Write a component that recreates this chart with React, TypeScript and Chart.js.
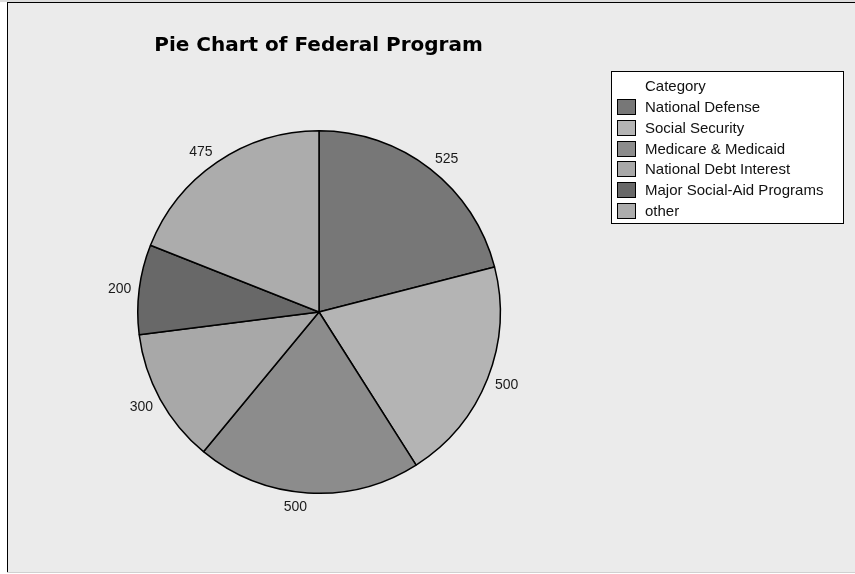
import React, { useEffect, useRef } from "react";
import { Chart, registerables } from "chart.js";

Chart.register(...registerables);

const categories = [
  "National Defense",
  "Social Security",
  "Medicare & Medicaid",
  "National Debt Interest",
  "Major Social-Aid Programs",
  "other",
];
const values = [525, 500, 500, 300, 200, 475];
const sliceColors = ["#777777", "#b4b4b4", "#8c8c8c", "#a8a8a8", "#686868", "#acacac"];
const titleText = "Pie Chart of Federal Program";
const legendTitle = "Category";

const W = 855;
const H = 574;

const framePlugin = {
  id: "frame",
  beforeDraw(chart: any) {
    const ctx = chart.ctx;
    ctx.save();
    ctx.fillStyle = "#ffffff";
    ctx.fillRect(0, 0, W, H);
    ctx.fillStyle = "#dcdcdc";
    ctx.fillRect(0, 0, W, 2);
    ctx.fillStyle = "#ebebeb";
    ctx.fillRect(7, 2, W - 7, 570);
    ctx.strokeStyle = "#000000";
    ctx.lineWidth = 1;
    ctx.beginPath();
    ctx.moveTo(7.5, 2);
    ctx.lineTo(7.5, 572);
    ctx.moveTo(7, 2.5);
    ctx.lineTo(W, 2.5);
    ctx.stroke();
    ctx.strokeStyle = "#d0d0d0";
    ctx.beginPath();
    ctx.moveTo(7, 572.5);
    ctx.lineTo(W, 572.5);
    ctx.stroke();
    ctx.restore();
  },
};

const sliceLabelPlugin = {
  id: "sliceLabels",
  afterDatasetsDraw(chart: any) {
    const ctx = chart.ctx;
    const meta = chart.getDatasetMeta(0);
    const data = chart.data.datasets[0].data;
    ctx.save();
    ctx.font = "14px 'Liberation Sans', Arial, sans-serif";
    ctx.fillStyle = "#1a1a1a";
    ctx.textBaseline = "alphabetic";
    meta.data.forEach((arc: any, i: number) => {
      const { x, y, startAngle, endAngle, outerRadius } = arc.getProps(
        ["x", "y", "startAngle", "endAngle", "outerRadius"],
        true
      );
      const a = (startAngle + endAngle) / 2;
      const r = outerRadius + 8;
      const ax = x + r * Math.cos(a);
      const ay = y + r * Math.sin(a);
      const s = Math.cos(a);
      const c = -Math.sin(a);
      ctx.textAlign = s >= 0 ? "left" : "right";
      const cy = ay - 5.5 * c;
      ctx.fillText(String(data[i]), ax, cy + 5);
    });
    ctx.restore();
  },
};

const titleLegendPlugin = {
  id: "titleLegend",
  afterDraw(chart: any) {
    const ctx = chart.ctx;
    ctx.save();
    ctx.fillStyle = "#000000";
    ctx.font = "bold 20px 'DejaVu Sans', sans-serif";
    ctx.textAlign = "center";
    ctx.textBaseline = "alphabetic";
    ctx.fillText(titleText, 318.5, 50.5);

    const bx = 611.5;
    const by = 71.5;
    const bw = 232;
    const bh = 152;
    ctx.fillStyle = "#ffffff";
    ctx.fillRect(bx, by, bw, bh);
    ctx.strokeStyle = "#000000";
    ctx.lineWidth = 1;
    ctx.strokeRect(bx, by, bw, bh);

    ctx.font = "15px 'Liberation Sans', Arial, sans-serif";
    ctx.textAlign = "left";
    ctx.fillStyle = "#111111";
    const textX = 645;
    const firstRow = 86;
    const step = 20.7;
    ctx.fillText(legendTitle, textX, firstRow + 5.4);
    const colors = chart.data.datasets[0].backgroundColor;
    chart.data.labels.forEach((lab: string, i: number) => {
      const cy = firstRow + step * (i + 1);
      const top = Math.round(cy - 7.5) + 0.5;
      ctx.fillStyle = colors[i];
      ctx.fillRect(617.5, top, 18, 15);
      ctx.strokeStyle = "#000000";
      ctx.strokeRect(617.5, top, 18, 15);
      ctx.fillStyle = "#111111";
      ctx.fillText(lab, textX, cy + 5.4);
    });
    ctx.restore();
  },
};

export default function App() {
  const canvasRef = useRef<HTMLCanvasElement | null>(null);

  useEffect(() => {
    if (!canvasRef.current) return;
    const chart = new Chart(canvasRef.current, {
      type: "pie",
      data: {
        labels: categories,
        datasets: [
          {
            data: values,
            backgroundColor: sliceColors,
            borderColor: "#000000",
            borderWidth: 1.5,
          },
        ],
      },
      options: {
        responsive: false,
        animation: false,
        devicePixelRatio: 1,
        layout: { padding: { left: 137, right: W - 501, top: 130, bottom: H - 494 } },
        plugins: {
          legend: { display: false },
          title: { display: false },
          tooltip: { enabled: false },
        },
      },
      plugins: [framePlugin, sliceLabelPlugin, titleLegendPlugin],
    });
    return () => chart.destroy();
  }, []);

  return (
    <div style={{ position: "absolute", left: 0, top: 0, width: W, height: H }}>
      <canvas ref={canvasRef} width={W} height={H} style={{ width: W, height: H, display: "block" }} />
    </div>
  );
}
